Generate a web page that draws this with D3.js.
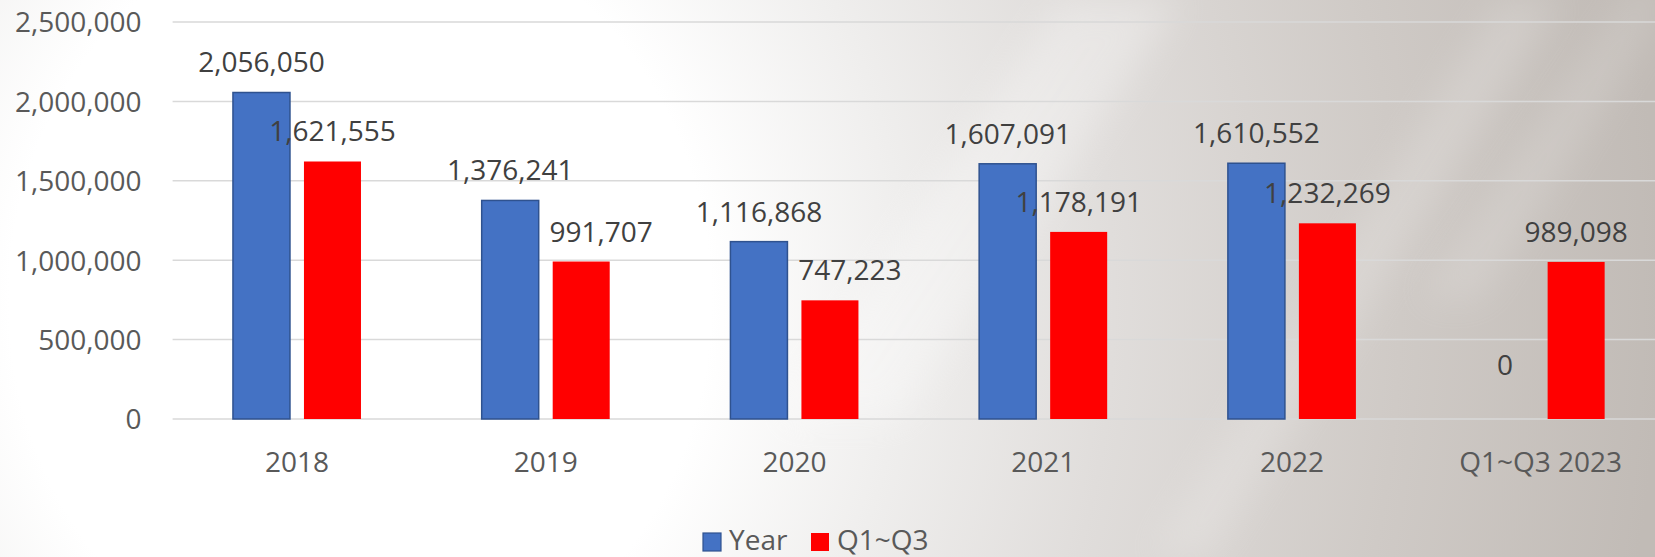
<!DOCTYPE html>
<html>
<head>
<meta charset="utf-8">
<script src="https://cdn.jsdelivr.net/npm/d3@7"></script>
<style>
  html, body { margin: 0; padding: 0; background: #fff; }
  svg { display: block; }
  text { font-family: "Open Sans", "Noto Sans", sans-serif; }
</style>
</head>
<body>
<svg id="chart" width="1655" height="557"></svg>
<script>
const categories = ["2018", "2019", "2020", "2021", "2022", "Q1~Q3 2023"];
const seriesNames = ["Year", "Q1~Q3"];
const yearValues = [2056050, 1376241, 1116868, 1607091, 1610552, 0];
const q1q3Values = [1621555, 991707, 747223, 1178191, 1232269, 989098];
const yTicks = [0, 500000, 1000000, 1500000, 2000000, 2500000];

const W = 1655, H = 557;
const svg = d3.select("#chart");
const defs = svg.append("defs");

// background: bright glow on the left, warm grey towards the right
const rg = defs.append("radialGradient").attr("id", "bg")
  .attr("gradientUnits", "userSpaceOnUse")
  .attr("cx", 360).attr("cy", 300).attr("r", 1300)
  .attr("gradientTransform", "translate(360,300) scale(1,1.1) translate(-360,-300)");
[[0, "#ffffff"], [0.27, "#ffffff"], [0.42, "#efeeed"], [0.58, "#e0dddb"], [0.8, "#cfcac6"], [1, "#c1bbb6"]]
  .forEach(([o, c]) => rg.append("stop").attr("offset", o).attr("stop-color", c));
svg.append("rect").attr("width", W).attr("height", H).attr("fill", "url(#bg)");

defs.append("filter").attr("id", "blur").attr("x", "-20%").attr("y", "-20%").attr("width", "140%").attr("height", "140%")
  .append("feGaussianBlur").attr("stdDeviation", 18);
const streaks = [
  { d: "M780,420 L900,420 L1180,0 L1060,0 Z", o: 0.3 },
  { d: "M1150,557 L1210,557 L1560,0 L1500,0 Z", o: 0.18 },
  { d: "M1420,300 L1480,300 L1655,20 L1655,-40 Z", o: 0.15 }
];
svg.selectAll("path.streak").data(streaks).enter().append("path")
  .attr("class", "streak").attr("d", d => d.d).attr("fill", "#ffffff")
  .attr("opacity", d => d.o).attr("filter", "url(#blur)");

const plotLeft = 172.6, plotRight = 1665, plotTop = 22, plotBottom = 419;

const x = d3.scaleBand().domain(categories).range([plotLeft, plotRight]).paddingInner(0).paddingOuter(0);
const xs = d3.scaleBand().domain(seriesNames).range([0, x.bandwidth()]).paddingInner(0.197).paddingOuter(0.85);
const y = d3.scaleLinear().domain([0, 2500000]).range([plotBottom, plotTop]);

// gridlines
svg.append("g").selectAll("line").data(yTicks).enter().append("line")
  .attr("x1", plotLeft).attr("x2", plotRight)
  .attr("y1", d => y(d)).attr("y2", d => y(d))
  .attr("stroke", "#d9d9d9").attr("stroke-width", 1.5);

// y axis
const yAxis = d3.axisLeft(y).tickValues(yTicks).tickSize(0).tickPadding(0).tickFormat(d3.format(","));
const yg = svg.append("g").attr("transform", `translate(${plotLeft - 31},0)`).call(yAxis);
yg.select(".domain").remove();
yg.selectAll("text").attr("fill", "#595959").attr("font-size", 28).attr("dy", "0.35em");

// x axis
const xAxis = d3.axisBottom(x).tickSize(0).tickPadding(0);
const xg = svg.append("g").attr("transform", `translate(0,${plotBottom})`).call(xAxis);
xg.select(".domain").remove();
xg.selectAll("text").attr("fill", "#595959").attr("font-size", 28).attr("dy", "0").attr("y", 53);

const colors = { "Year": "#4472c4", "Q1~Q3": "#ff0000" };
const strokes = { "Year": "#2f528f", "Q1~Q3": "none" };
// data labels nudged sideways in the reference (layout, not data)
const labelNudge = { "2019|Q1~Q3": 20, "2020|Q1~Q3": 20 };

const rows = categories.map((c, i) => ({ cat: c, vals: [
  { c: c, s: "Year", v: yearValues[i] }, { c: c, s: "Q1~Q3", v: q1q3Values[i] }] }));

const groups = svg.append("g").selectAll("g").data(rows).enter().append("g")
  .attr("transform", d => `translate(${x(d.cat)},0)`);

groups.selectAll("rect").data(d => d.vals.filter(e => e.v > 0)).enter().append("rect")
  .attr("x", d => xs(d.s)).attr("width", xs.bandwidth())
  .attr("y", d => y(d.v)).attr("height", d => y(0) - y(d.v))
  .attr("fill", d => colors[d.s]).attr("stroke", d => strokes[d.s]).attr("stroke-width", 1.5);

groups.selectAll("text.lbl").data(d => d.vals).enter().append("text")
  .attr("class", "lbl")
  .attr("x", d => xs(d.s) + xs.bandwidth() / 2 + (labelNudge[d.c + "|" + d.s] || 0))
  .attr("y", d => d.v === 0 ? y(0) - 44 : y(d.v) - 20)
  .attr("text-anchor", "middle").attr("font-size", 28).attr("fill", "#404040")
  .text(d => d3.format(",")(d.v));

// legend
const legend = svg.append("g").attr("transform", "translate(703,550)");
const legItems = [{ s: "Year", x: 0 }, { s: "Q1~Q3", x: 108 }];
const li = legend.selectAll("g").data(legItems).enter().append("g")
  .attr("transform", d => `translate(${d.x},0)`);
li.append("rect").attr("x", 0).attr("y", -17).attr("width", 18).attr("height", 18)
  .attr("fill", d => colors[d.s]).attr("stroke", d => strokes[d.s]).attr("stroke-width", 1.2);
li.append("text").attr("x", 26).attr("y", 0).attr("font-size", 28).attr("fill", "#595959")
  .text(d => d.s);
</script>
</body>
</html>
